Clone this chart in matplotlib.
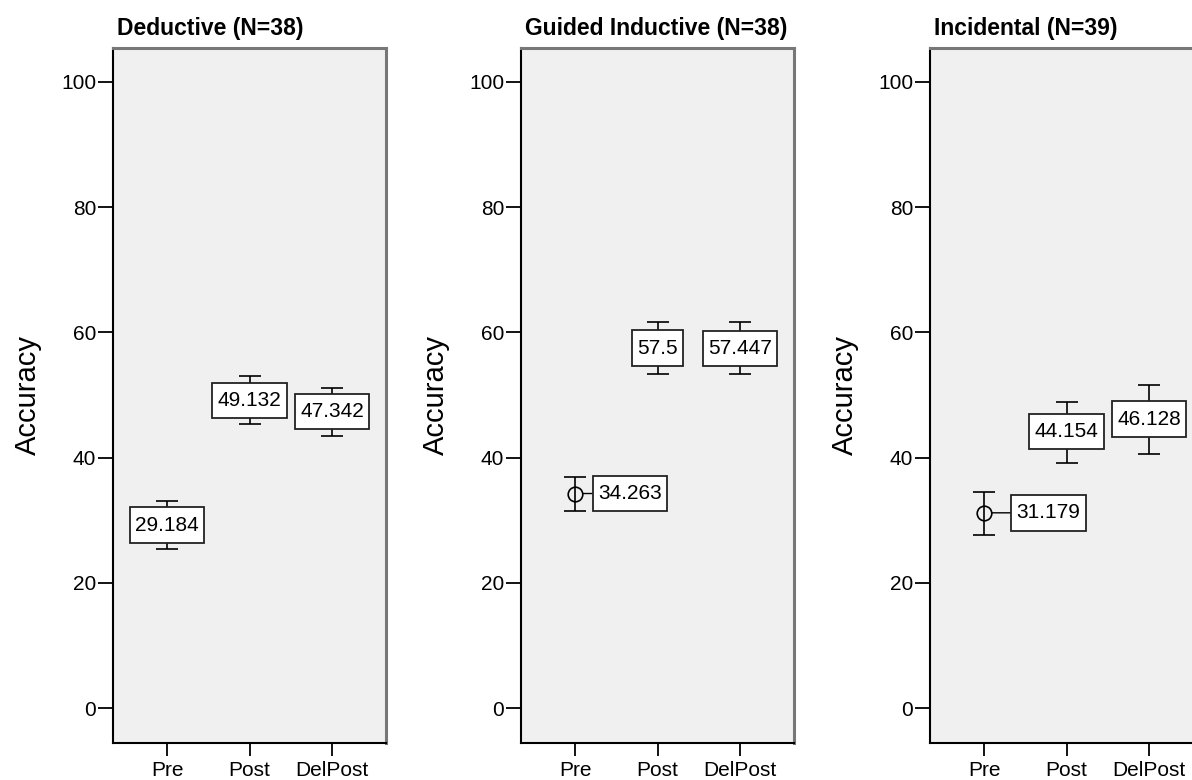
import matplotlib
matplotlib.use("Agg")
import matplotlib.pyplot as plt
from matplotlib.path import Path

plt.rcParams['font.family'] = ['Liberation Sans', 'DejaVu Sans']

# ---- data ----
group_titles = ['Deductive (N=38)', 'Guided Inductive (N=38)', 'Incidental (N=39)']
time_labels = ['Pre', 'Post', 'DelPost']

deductive_mean = [29.184, 49.132, 47.342]
deductive_low = [25.4, 45.3, 43.5]
deductive_high = [33.0, 53.0, 51.1]

guided_mean = [34.263, 57.5, 57.447]
guided_low = [31.5, 53.3, 53.3]
guided_high = [36.9, 61.6, 61.6]

incidental_mean = [31.179, 44.154, 46.128]
incidental_low = [27.7, 39.2, 40.5]
incidental_high = [34.5, 48.9, 51.6]

y_ticks = [0, 20, 40, 60, 80, 100]

# ---- layout / styles ----
W, H = 1192, 780
fig = plt.figure(figsize=(W / 100, H / 100), dpi=100)
panel_left_px = [113, 521, 930]
panel_w_px = 273
top_px, bottom_px = 48, 743
# label horizontal offsets (points) per panel per time
label_offsets = [[0, 0, 0], [39.6, 0, 0], [46.4, 0, 0]]


def label_box(x0, y0, width, height, mutation_size):
    padx = 0.26 * mutation_size
    pady = 0.40 * mutation_size
    x0, y0 = x0 - padx, y0 - pady
    x1, y1 = x0 + width + 2 * padx, y0 + height + 2 * pady
    return Path([(x0, y0), (x1, y0), (x1, y1), (x0, y1), (x0, y0)], closed=True)


series = [
    (deductive_mean, deductive_low, deductive_high),
    (guided_mean, guided_low, guided_high),
    (incidental_mean, incidental_low, incidental_high),
]

for gi, (title, (means, lows, highs)) in enumerate(zip(group_titles, series)):
    ax = fig.add_axes([panel_left_px[gi] / W, 1 - bottom_px / H,
                       panel_w_px / W, (bottom_px - top_px) / H])
    ax.set_facecolor('#f0f0f0')
    x = list(range(1, len(time_labels) + 1))
    yerr = [[m - l for m, l in zip(means, lows)], [h - m for m, h in zip(means, highs)]]
    ax.errorbar(x, means, yerr=yerr, fmt='o', mfc='none', mec='black', mew=1.2,
                ms=10.5, ecolor='black', elinewidth=1.2, capsize=8, capthick=1.2,
                color='black', zorder=3)
    for xi, m, off in zip(x, means, label_offsets[gi]):
        kw = {}
        if off:
            kw['arrowprops'] = dict(arrowstyle='-', color='black', lw=1.0,
                                    shrinkA=0, shrinkB=5.5)
        ax.annotate(str(m), xy=(xi, m), xytext=(off, 0), textcoords='offset points',
                    ha='center', va='center', fontsize=15, zorder=5,
                    bbox=dict(boxstyle=label_box, fc='white', ec='#222222', lw=1.3),
                    **kw)
    ax.set_xlim(0.345, 3.655)
    ax.set_ylim(-5.59, 105.43)
    ax.set_xticks(x)
    ax.set_xticklabels(time_labels, fontsize=15)
    ax.set_yticks(y_ticks)
    ax.set_yticklabels([str(t) for t in y_ticks], fontsize=15)
    ax.tick_params(axis='y', length=11, width=1.3, pad=1)
    ax.tick_params(axis='x', length=9, width=1.3, pad=4)
    for s in ['left', 'bottom']:
        ax.spines[s].set_color('black')
        ax.spines[s].set_linewidth(1.5)
    for s in ['top', 'right']:
        ax.spines[s].set_color('#777777')
        ax.spines[s].set_linewidth(2.2)
    ax.set_ylabel('Accuracy', fontsize=21)
    ax.yaxis.set_label_coords(-0.26, 0.5)
    ax.annotate(title, xy=(0, 1), xycoords='axes fraction', xytext=(4, 8),
                textcoords='offset pixels', ha='left', va='bottom',
                fontsize=16.5, fontweight='bold')

fig.savefig('out.png', dpi=100)
